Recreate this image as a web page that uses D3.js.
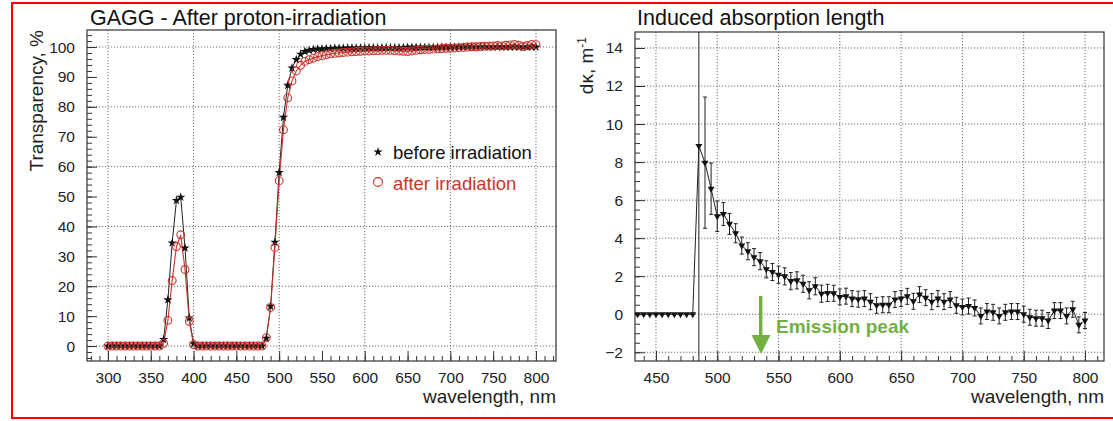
<!DOCTYPE html>
<html><head><meta charset="utf-8">
<script src="https://cdn.jsdelivr.net/npm/d3@7"></script>
<style>
body{margin:0;background:#fff;}
svg{display:block;font-family:"Liberation Sans",Arial,sans-serif;}
</style></head>
<body><svg id="c" width="1113" height="421"></svg>
<script>
// ---------- DATA ----------
const wlLeft = d3.range(300, 801, 5); // wavelength grid, 5 nm step (categories)
const before = [
 0,0,0,0,0,0,0,0,0,0,0,0,0,            // 300-360
 2.2,15.5,34.5,48.7,49.8,32.8,9.4,0.8, // 365-400
 0,0,0,0,0,0,0,0,0,0,0,0,0,0,0,0,      // 405-480
 2.6,13.3,34.7,58.0,76.5,87.2,93.0,95.8,97.6,98.5, // 485-530
 98.9,99.2,99.3,99.4,99.5,99.5,99.6,99.6,99.6,99.7, // 535-580
 99.7,99.7,99.7,99.7,99.8,99.8,99.7,99.8,99.8,99.8, // 585-630
 99.8,99.8,99.8,99.9,99.9,99.9,99.9,99.9,99.9,99.9, // 635-680
 99.9,100,100,100,100,100,100,100,100,100,          // 685-730
 100,100,100,100,100,100,100,100,100,100,           // 735-780
 100,100,100,100                                    // 785-800
];
const after = [
 0,0,0,0,0,0,0,0,0,0,0,0,0,
 0.9,8.6,21.9,33.3,37.2,25.6,8.3,0.5,
 0,0,0,0,0,0,0,0,0,0,0,0,0,0,0,0,
 2.8,12.9,33.0,55.3,72.3,83.0,88.7,92.0,93.9,95.2,
 95.8,96.3,96.8,97.1,97.4,97.7,97.9,98.0,98.2,98.3,
 98.4,98.5,98.6,98.7,98.7,98.8,98.8,98.9,98.9,98.9,
 98.8,98.7,98.6,98.5,98.7,98.9,99.1,99.2,99.2,99.3,
 99.4,99.5,99.6,99.6,99.7,99.8,99.9,100.0,100.1,100.1,
 100.2,100.3,100.3,100.4,100.5,100.4,100.6,100.7,100.9,100.6,
 100.2,100.5,100.9,100.8
];
const wlRight = d3.range(435, 801, 5);
const dk = [
 0,0,0,0,0,0,0,0,0,0,                 // 435-480
 8.85,7.97,6.6,5.15,5.27,4.75,4.26,3.61,3.31,3.0,   // 485-530
 2.79,2.36,2.22,2.08,1.99,1.74,1.78,1.6,1.26,1.47,  // 535-580
 1.08,1.12,1.1,0.91,0.95,0.82,0.79,0.82,0.66,0.47,  // 585-630
 0.5,0.5,0.77,0.82,0.94,0.68,1.03,0.87,0.66,0.82,   // 635-680
 0.66,0.77,0.47,0.38,0.43,0.33,-0.09,0.14,0.1,-0.09,// 685-730
 0.1,0.14,0.14,0,-0.16,-0.21,-0.21,-0.33,0.19,0.19, // 735-780
 -0.09,0.26,-0.56,-0.33                             // 785-800
];
const dkErr = [
 0,0,0,0,0,0,0,0,0,0,
 20,3.45,1.35,0.8,0.6,0.55,0.5,0.45,0.45,0.45,
 0.45,0.45,0.45,0.45,0.45,0.45,0.45,0.45,0.45,0.45,
 0.45,0.45,0.42,0.42,0.42,0.42,0.42,0.42,0.42,0.42,
 0.42,0.42,0.42,0.42,0.42,0.42,0.42,0.42,0.42,0.42,
 0.42,0.42,0.42,0.42,0.42,0.42,0.42,0.42,0.42,0.42,
 0.42,0.42,0.42,0.42,0.42,0.42,0.42,0.42,0.42,0.42,
 0.42,0.42,0.42,0.42
];
const leftXTicks = [300,350,400,450,500,550,600,650,700,750,800];
const leftYTicks = [0,10,20,30,40,50,60,70,80,90,100];
const rightXTicks = [450,500,550,600,650,700,750,800];
const rightYTicks = [-2,0,2,4,6,8,10,12,14];
const seriesNames = ["before irradiation","after irradiation"];

// ---------- DRAW ----------
const svg = d3.select("#c");
const RED = "#c8352c", GREEN = "#72b043", FRAME = "#333";

// outer red border
svg.append("rect").attr("x",12).attr("y",3).attr("width",1120).attr("height",415)
  .attr("fill","none").attr("stroke","#f00").attr("stroke-width",2);

function panel(o){
  const g = svg.append("g");
  const x = d3.scaleLinear().domain(o.xd).range([o.x0,o.x1]);
  const y = d3.scaleLinear().domain(o.yd).range([o.y1,o.y0]);
  const clipId = "clip"+o.id;
  svg.append("clipPath").attr("id",clipId).append("rect")
    .attr("x",o.x0).attr("y",o.y0).attr("width",o.x1-o.x0).attr("height",o.y1-o.y0);
  // grid
  g.append("g").selectAll("line").data(o.gx).join("line")
    .attr("x1",d=>x(d)).attr("x2",d=>x(d)).attr("y1",o.y0).attr("y2",o.y1)
    .attr("stroke","#6f6f6f").attr("stroke-dasharray","1.2,1.8").attr("stroke-width",1);
  g.append("g").selectAll("line").data(o.gy).join("line")
    .attr("y1",d=>y(d)).attr("y2",d=>y(d)).attr("x1",o.x0).attr("x2",o.x1)
    .attr("stroke","#6f6f6f").attr("stroke-dasharray","1.2,1.8").attr("stroke-width",1);
  // minor ticks
  g.append("g").attr("transform",`translate(0,${o.y1})`)
    .call(d3.axisBottom(x).tickValues(o.xMinor).tickSize(-5).tickFormat(""))
    .call(s=>{s.select(".domain").remove(); s.selectAll("line").attr("stroke",FRAME);});
  g.append("g").attr("transform",`translate(${o.x0},0)`)
    .call(d3.axisLeft(y).tickValues(o.yMinor).tickSize(-5).tickFormat(""))
    .call(s=>{s.select(".domain").remove(); s.selectAll("line").attr("stroke",FRAME);});
  // major ticks + labels
  g.append("g").attr("transform",`translate(0,${o.y1})`)
    .call(d3.axisBottom(x).tickValues(o.xt).tickSize(-10).tickPadding(11).tickFormat(d3.format("d")))
    .call(s=>{s.select(".domain").remove(); s.selectAll("line").attr("stroke",FRAME);
      s.selectAll("text").attr("font-size",15.5).attr("fill","#222").attr("font-family","Liberation Sans, Arial, sans-serif");});
  g.append("g").attr("transform",`translate(${o.x0},0)`)
    .call(d3.axisLeft(y).tickValues(o.yt).tickSize(-10).tickPadding(12).tickFormat(d3.format("d")))
    .call(s=>{s.select(".domain").remove(); s.selectAll("line").attr("stroke",FRAME);
      s.selectAll("text").attr("font-size",15.5).attr("fill","#222").attr("font-family","Liberation Sans, Arial, sans-serif");});
  // frame
  g.append("rect").attr("x",o.x0).attr("y",o.y0).attr("width",o.x1-o.x0).attr("height",o.y1-o.y0)
    .attr("fill","none").attr("stroke",FRAME).attr("stroke-width",1.2);
  // title
  svg.append("text").attr("x",o.titleX).attr("y",25).attr("font-size",21.5).attr("fill","#111").text(o.title);
  // x title
  svg.append("text").attr("x",o.x1).attr("y",403).attr("text-anchor","end").attr("font-size",19).attr("fill","#222").text("wavelength, nm");
  return {x,y,clip:`url(#${clipId})`};
}

// LEFT PANEL
const L = panel({id:"L", x0:87,x1:556,y0:30,y1:361, xd:[275.5,823.4], yd:[-5,105.7],
  gx:[300,400,500,600,700,800], gy:[0,20,40,60,80,100],
  xt:leftXTicks, yt:leftYTicks,
  xMinor:d3.range(280,821,10), yMinor:d3.range(-4,105,2),
  titleX:90, title:"GAGG - After proton-irradiation"});
svg.append("text").attr("transform","translate(43,30) rotate(-90)").attr("text-anchor","end")
  .attr("font-size",19).attr("fill","#222").text("Transparency, %");

const lg = svg.append("g").attr("clip-path",L.clip);
const lineL = d3.line().x((d,i)=>L.x(wlLeft[i])).y(d=>L.y(d));
lg.append("path").datum(before).attr("d",lineL).attr("fill","none").attr("stroke","#222").attr("stroke-width",1);
lg.append("path").datum(after).attr("d",lineL).attr("fill","none").attr("stroke",RED).attr("stroke-width",1.1);
const star = d3.symbol().type(d3.symbolStar).size(27);
lg.append("g").selectAll("path").data(before).join("path")
  .attr("d",star).attr("transform",(d,i)=>`translate(${L.x(wlLeft[i])},${L.y(d)})`).attr("fill","#111");
lg.append("g").selectAll("circle").data(after).join("circle")
  .attr("cx",(d,i)=>L.x(wlLeft[i])).attr("cy",d=>L.y(d)).attr("r",3.9)
  .attr("fill","none").attr("stroke",RED).attr("stroke-width",1.1);
// legend
svg.append("path").attr("d",star).attr("transform","translate(378,152)").attr("fill","#111");
svg.append("text").attr("x",393).attr("y",159).attr("font-size",18.5).attr("fill","#111").text(seriesNames[0]);
svg.append("circle").attr("cx",378).attr("cy",182).attr("r",4.4).attr("fill","none").attr("stroke",RED).attr("stroke-width",1.1);
svg.append("text").attr("x",393).attr("y",190).attr("font-size",18.5).attr("fill",RED).text(seriesNames[1]);

// RIGHT PANEL
const R = panel({id:"R", x0:635,x1:1104,y0:32,y1:361, xd:[432.9,815.5], yd:[-2.46,14.84],
  gx:[450,500,550,600,650,700,750,800], gy:[-2,0,2,4,6,8,10,12,14],
  xt:rightXTicks, yt:rightYTicks,
  xMinor:d3.range(440,811,10), yMinor:d3.range(-2,14.6,0.5),
  titleX:637, title:"Induced absorption length"});
const yl = svg.append("text").attr("transform","translate(593,37) rotate(-90)").attr("text-anchor","end")
  .attr("font-size",19).attr("fill","#222");
yl.append("tspan").text("dκ, m");
yl.append("tspan").attr("font-size",12).attr("dy",-7).text("-1");

const rg = svg.append("g").attr("clip-path",R.clip);
// error bars
const eb = rg.append("g").attr("stroke","#222").attr("stroke-width",1);
dk.forEach((v,i)=>{
  const e = dkErr[i]; if(!e) return;
  const xx = R.x(wlRight[i]);
  eb.append("line").attr("x1",xx).attr("x2",xx).attr("y1",R.y(v+e)).attr("y2",R.y(v-e));
  if(e<10){
    eb.append("line").attr("x1",xx-2).attr("x2",xx+2).attr("y1",R.y(v+e)).attr("y2",R.y(v+e));
    eb.append("line").attr("x1",xx-2).attr("x2",xx+2).attr("y1",R.y(v-e)).attr("y2",R.y(v-e));
  }
});
rg.append("path").datum(dk).attr("d",d3.line().x((d,i)=>R.x(wlRight[i])).y(d=>R.y(d)))
  .attr("fill","none").attr("stroke","#222").attr("stroke-width",1);
const tri = d3.symbol().type(d3.symbolTriangle).size(21);
rg.append("g").selectAll("path").data(dk).join("path")
  .attr("d",tri).attr("transform",(d,i)=>`translate(${R.x(wlRight[i])},${R.y(d)}) rotate(180)`).attr("fill","#111");

// Emission peak arrow + label
svg.append("rect").attr("x",759).attr("y",296).attr("width",3.4).attr("height",42).attr("fill",GREEN);
svg.append("path").attr("d","M751.5,335 L770.5,335 L761,354 Z").attr("fill",GREEN);
svg.append("text").attr("x",776).attr("y",332.5).attr("font-size",19).attr("font-weight","bold")
  .attr("fill",GREEN).text("Emission peak");
</script></body></html>
